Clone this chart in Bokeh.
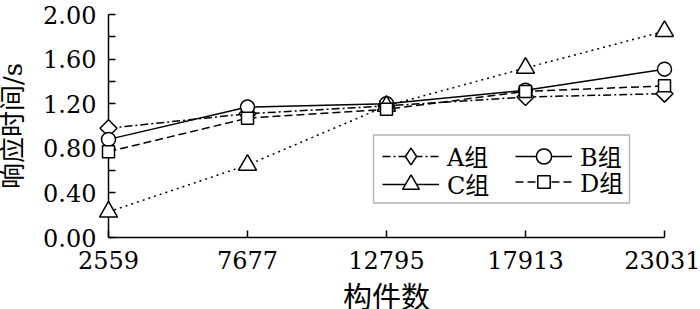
import math
from bokeh.plotting import figure
from bokeh.models import (Range1d, FixedTicker, PrintfTickFormatter, Legend,
                          LegendItem, BoxAnnotation, ColumnDataSource)
from bokeh.core.properties import value
from bokeh.embed import file_html
from bokeh.resources import INLINE

# ---- data ----
x_vals = [2559, 7677, 12795, 17913, 23031]
group_a = [0.98, 1.11, 1.18, 1.26, 1.29]
group_b = [0.88, 1.17, 1.20, 1.32, 1.51]
group_c = [0.23, 0.65, 1.18, 1.52, 1.85]
group_d = [0.77, 1.07, 1.15, 1.31, 1.36]
series_labels = ["A组", "B组", "C组", "D组"]
y_major_ticks = [0.0, 0.4, 0.8, 1.2, 1.6, 2.0]
y_minor_ticks = [0.2, 0.6, 1.0, 1.4, 1.8]
x_title = "构件数"
y_title = "响应时间/s"

FONT = "DejaVu Serif, Noto Sans CJK SC"
CJK = "Noto Sans CJK SC, DejaVu Serif"
NAN = float("nan")

p = figure(width=700, height=309, output_backend="svg", toolbar_location=None,
           x_range=Range1d(x_vals[0], x_vals[-1]),
           y_range=Range1d(y_major_ticks[0], y_major_ticks[-1]),
           min_border_left=108, min_border_right=36, min_border_top=14,
           min_border_bottom=72)
p.outline_line_color = None
p.grid.visible = False
p.background_fill_color = "white"
p.border_fill_color = "white"

# axes
for ax in (p.xaxis[0], p.yaxis[0]):
    ax.axis_line_color = "black"
    ax.axis_line_width = 1.5
    ax.major_tick_line_color = "black"
    ax.major_tick_line_width = 1.5
    ax.major_tick_in = 7
    ax.major_tick_out = 0
    ax.minor_tick_line_color = "black"
    ax.minor_tick_line_width = 1.5
    ax.minor_tick_in = 7
    ax.minor_tick_out = 0
    ax.major_label_text_font = FONT
    ax.major_label_text_font_size = "24px"
    ax.major_label_text_color = "black"

p.xaxis.ticker = FixedTicker(ticks=x_vals, minor_ticks=[])
p.xaxis.formatter = PrintfTickFormatter(format="%d")
p.xaxis.major_label_standoff = 13

p.yaxis.ticker = FixedTicker(ticks=y_major_ticks, minor_ticks=y_minor_ticks)
p.yaxis.formatter = PrintfTickFormatter(format="%.2f")
p.yaxis.major_label_standoff = 12

# axis titles: anchored at the axis midpoints, offset in pixels, drawn unclipped
x_mid = (x_vals[0] + x_vals[-1]) / 2
y_mid = (y_major_ticks[0] + y_major_ticks[-1]) / 2
p.text(x=[x_mid], y=[y_major_ticks[0]], text=[x_title], y_offset=57,
       text_font=value(CJK), text_font_size="29px", text_color="black",
       text_align="center", text_baseline="middle", level="overlay")
p.text(x=[x_vals[0]], y=[y_mid], text=[y_title], x_offset=-96, angle=math.pi / 2,
       text_font=value(FONT), text_font_size="26px", text_color="black",
       text_align="center", text_baseline="middle", level="overlay")

src = ColumnDataSource(dict(x=x_vals, a=group_a, b=group_b, c=group_c, d=group_d))

LW = 1.5
la = p.line("x", "a", source=src, line_color="black", line_width=LW, line_dash="8 3 2 3")
sa = p.scatter("x", "a", source=src, marker="square", size=12, angle=math.pi / 4,
               fill_color="white", line_color="black", line_width=LW, level="overlay")
lb = p.line("x", "b", source=src, line_color="black", line_width=LW)
sb = p.scatter("x", "b", source=src, marker="circle", size=14,
               fill_color="white", line_color="black", line_width=LW, level="overlay")
lc = p.line("x", "c", source=src, line_color="black", line_width=LW, line_dash="2 4")
sc = p.scatter("x", "c", source=src, marker="triangle", size=18,
               fill_color="white", line_color="black", line_width=LW, level="overlay")
ld = p.line("x", "d", source=src, line_color="black", line_width=LW, line_dash="8 4")
sd = p.scatter("x", "d", source=src, marker="square", size=12,
               fill_color="white", line_color="black", line_width=LW, level="overlay")

# legend-only glyphs (nothing drawn on the plot: NaN position)
leg_a_marker = p.scatter(x=[NAN], y=[NAN], marker="diamond", size=12,
                         fill_color="white", line_color="black", line_width=LW)
leg_c_line = p.line(x=[NAN], y=[NAN], line_color="black", line_width=LW)


def make_legend(item, gh, x, row_center_from_bottom):
    lg = Legend(items=[item], location=(x, row_center_from_bottom - gh / 2),
                orientation="vertical", padding=0, margin=0, spacing=0,
                glyph_width=57, glyph_height=gh, label_height=gh, label_standoff=8,
                label_text_font=FONT, label_text_font_size="24px",
                label_text_color="black", border_line_color=None,
                background_fill_alpha=0)
    p.add_layout(lg)
    return lg


ROW1, ROW2 = 81.5, 53.5
make_legend(LegendItem(label=series_labels[0], renderers=[la, leg_a_marker]), 42, 274, ROW1)
make_legend(LegendItem(label=series_labels[1], renderers=[lb, sb]), 38, 407, ROW1)
make_legend(LegendItem(label=series_labels[2], renderers=[leg_c_line, sc]), 42, 274, ROW2)
make_legend(LegendItem(label=series_labels[3], renderers=[ld, sd]), 31, 407, ROW2)

frame_box = BoxAnnotation(left=265, right=521, bottom=34.5, top=102.5,
                          left_units="screen", right_units="screen",
                          bottom_units="screen", top_units="screen",
                          fill_color=None, line_color="black", line_width=1.3)
p.add_layout(frame_box)

open("out.html", "w").write(file_html(p, INLINE))
